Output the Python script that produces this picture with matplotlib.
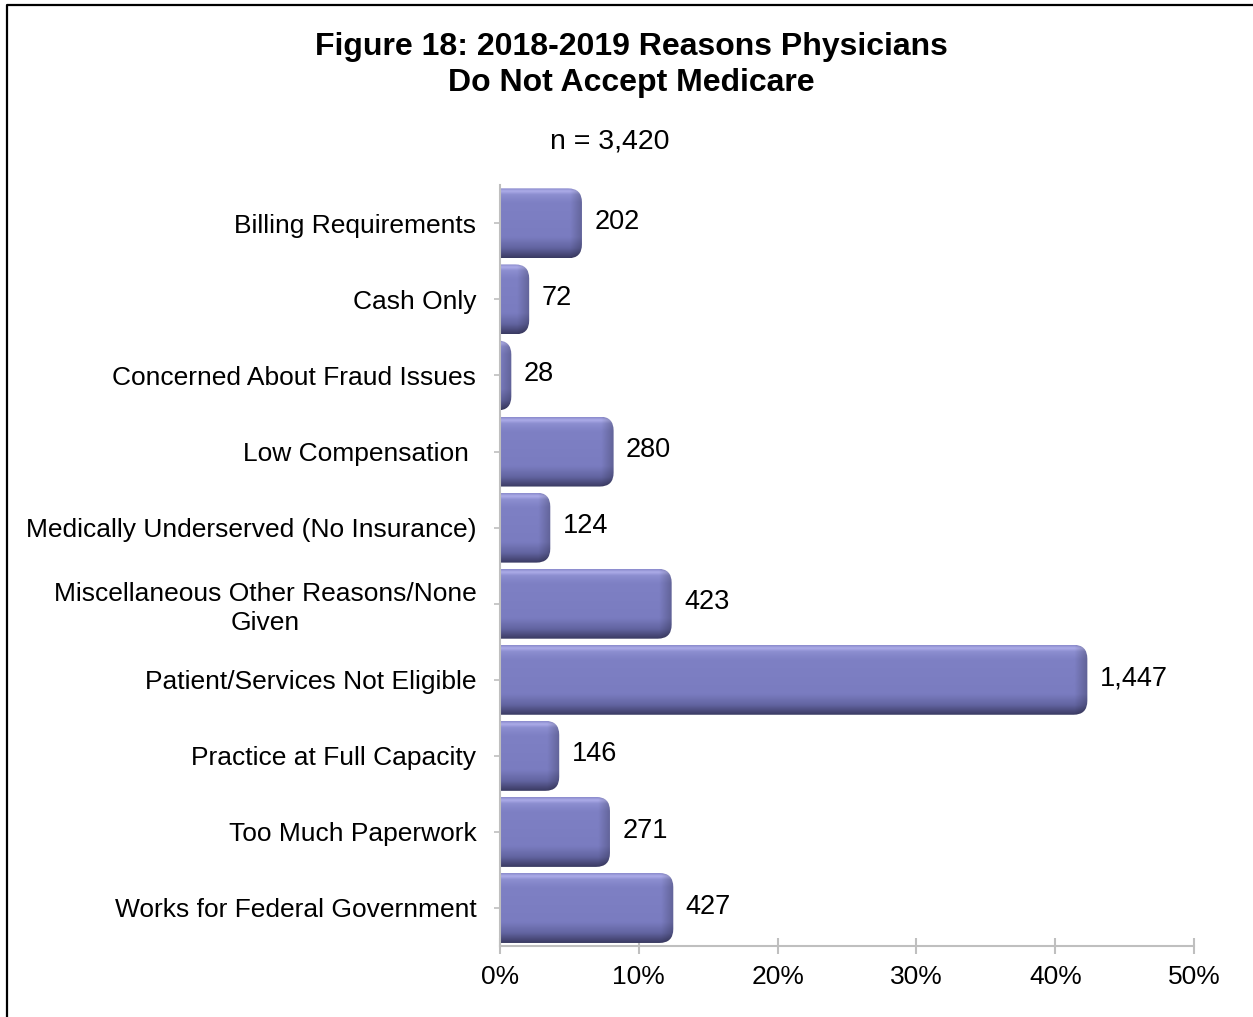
import numpy as np
import matplotlib.pyplot as plt
from matplotlib.patches import FancyBboxPatch
from matplotlib.lines import Line2D

plt.rcParams['font.family'] = ['Liberation Sans', 'DejaVu Sans']

# Datos del gráfico
reasons = ['Billing Requirements', 'Cash Only', 'Concerned About Fraud Issues',
           'Low Compensation ', 'Medically Underserved (No Insurance)',
           'Miscellaneous Other Reasons/None\nGiven', 'Patient/Services Not Eligible',
           'Practice at Full Capacity', 'Too Much Paperwork', 'Works for Federal Government']
counts = [202, 72, 28, 280, 124, 423, 1447, 146, 271, 427]
total = 3420
x_ticks = [0, 10, 20, 30, 40, 50]
x_tick_labels = ['0%', '10%', '20%', '30%', '40%', '50%']

pct = [c / total * 100 for c in counts]

fig = plt.figure(figsize=(12.53, 10.17), dpi=100)
ax = fig.add_axes([0.399, 0.0698, 0.554, 0.748])

ypos = np.arange(len(reasons))
bars = ax.barh(ypos, pct, height=0.92, color='none', edgecolor='none')

# gradiente vertical del relleno
stops = np.array([0.0, 0.04, 0.09, 0.2, 0.7, 0.86, 1.0])
cols = np.array([[140, 140, 205], [172, 172, 232], [140, 142, 208], [126, 128, 196],
                 [122, 124, 192], [98, 100, 160], [58, 58, 98]]) / 255.0
nrow, ncol = 120, 300
t = np.linspace(0, 1, nrow)
prof = np.stack([np.interp(t, stops, cols[:, k]) for k in range(3)], axis=1)

for rect, p, c in zip(bars, pct, counts):
    x0 = -2.0
    w = p - x0
    y0 = rect.get_y()
    h = rect.get_height()
    patch = FancyBboxPatch((x0, y0), w, h, boxstyle='round,pad=0,rounding_size=1.0',
                           mutation_aspect=0.184, facecolor='none', edgecolor='none',
                           transform=ax.transData)
    ax.add_patch(patch)
    xs = np.linspace(x0, p, ncol)
    shade = np.clip((p - xs) / 0.9, 0, 1) * 0.22 + 0.78
    img = prof[:, None, :] * shade[None, :, None]
    im = ax.imshow(img, extent=(x0, p, y0 + h, y0), origin='upper', aspect='auto',
                   interpolation='bilinear', zorder=2)
    im.set_clip_path(patch)
    ax.annotate(f'{c:,}', xy=(p, y0 + h / 2), xytext=(9, 1), textcoords='offset points',
                va='center', ha='left', fontsize=19.5)

ax.set_xlim(0, 50)
ax.set_ylim(len(reasons) - 0.5, -0.5)
ax.set_xticks(x_ticks)
ax.set_xticklabels(x_tick_labels, fontsize=19)
ax.set_yticks(ypos)
ax.set_yticklabels(reasons, fontsize=19)
for lab in ax.get_yticklabels():
    lab.set_multialignment('center')
    lab.set_linespacing(1.25)

gray = '#bfbfbf'
for s in ['top', 'right']:
    ax.spines[s].set_visible(False)
for s in ['left', 'bottom']:
    ax.spines[s].set_color(gray)
    ax.spines[s].set_linewidth(1.5)
ax.tick_params(axis='y', direction='out', length=4, width=1.2, color=gray, pad=13)
ax.tick_params(axis='x', direction='inout', length=11, width=1.5, color=gray, pad=8)

fig.text(0.504, 0.936, 'Figure 18: 2018-2019 Reasons Physicians\nDo Not Accept Medicare',
         ha='center', va='center', fontsize=23, fontweight='bold', linespacing=1.25)
fig.text(0.487, 0.861, 'n = 3,420', ha='center', va='center', fontsize=20.5)

# marco
fx = 7 / 1253
fy = 1 - 4.7 / 1017
fig.add_artist(Line2D([fx, fx, 1.0], [0.0, fy, fy], color='black', lw=1.6,
                      transform=fig.transFigure))

plt.savefig('out.png', dpi=100)
